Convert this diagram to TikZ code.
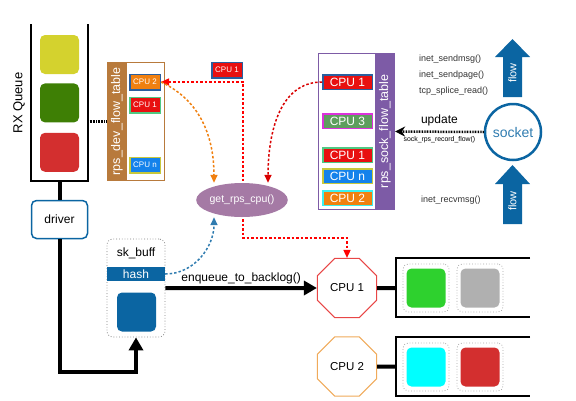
\documentclass[tikz,border=0pt]{standalone}
\usepackage{fontspec}
\setmainfont{Liberation Sans}
\usetikzlibrary{shapes.geometric, arrows, arrows.meta}
\usetikzlibrary{positioning}
\definecolor{qyellow}{RGB}{212,210,46}
\definecolor{qgreen}{RGB}{62,127,5}
\definecolor{qred}{RGB}{211,47,47}
\definecolor{skblue}{RGB}{11,101,162}
\definecolor{devbrown}{RGB}{184,122,60}
\definecolor{sockpurple}{RGB}{125,91,166}
\definecolor{rpspink}{RGB}{165,122,165}
\definecolor{cpured}{RGB}{232,16,16}
\definecolor{cpuorange}{RGB}{240,128,16}
\definecolor{cpublue}{RGB}{20,130,235}
\definecolor{cpugreen}{RGB}{94,158,94}
\definecolor{edgeblue}{RGB}{42,95,158}
\definecolor{edgegreen}{RGB}{80,200,130}
\definecolor{edgeyellow}{RGB}{200,200,60}
\definecolor{edgemagenta}{RGB}{220,50,220}
\definecolor{edgecyan}{RGB}{60,240,240}
\definecolor{corered}{RGB}{232,70,70}
\definecolor{coreorange}{RGB}{240,170,90}
\definecolor{pktgreen}{RGB}{46,209,46}
\definecolor{pktgray}{RGB}{176,176,176}
\definecolor{pktcyan}{RGB}{0,255,255}
\tikzstyle{packet} = [rectangle, rounded corners=5pt, minimum width=39pt, minimum height=39pt, inner sep=0pt]
\tikzstyle{slot} = [rectangle, rounded corners=5pt, minimum width=46pt, minimum height=48pt, draw=gray!70, dotted, line width=0.8pt]
\tikzstyle{flowtable} = [rectangle, line width=1.2pt, fill=white]
\tikzstyle{tabletitle} = [rectangle, rotate=90, minimum height=20pt, inner sep=0pt, text=white, font=\fontsize{12.5}{14}\selectfont]
\tikzstyle{entry} = [rectangle, line width=1.5pt, minimum width=30.5pt, minimum height=15.5pt, inner sep=0pt, text=white, font=\fontsize{8}{9}\selectfont]
\tikzstyle{bigentry} = [entry, minimum width=49.5pt, minimum height=14.5pt, font=\fontsize{12}{13}\selectfont]
\tikzstyle{core} = [regular polygon, regular polygon sides=8, minimum size=64pt, inner sep=0pt, line width=1pt, fill=white, font=\fontsize{11.5}{13}\selectfont]
\tikzstyle{flowshape} = [fill=skblue, draw=none]
\tikzstyle{flowtext} = [rotate=90, text=white, inner sep=0pt, font=\fontsize{11}{12}\selectfont]
\tikzstyle{fname} = [anchor=west, inner sep=0pt, text=black!80, font=\fontsize{9}{10}\selectfont]
\tikzstyle{link} = [line width=4pt]
\tikzstyle{pushline} = [line width=4pt, -{Triangle[length=13pt,width=14pt]}]
\tikzstyle{dotline} = [line width=1.5pt, dash pattern=on 2.5pt off 2pt]
\tikzstyle{dottip} = [-{Triangle[length=8pt,width=7pt]}]

\begin{document}
\begin{tikzpicture}[x=1pt, y=-1pt, font=\fontsize{12}{14}\selectfont]
 \useasboundingbox (0,0) rectangle (576,400);

 \draw [line width=1.5pt] (31,24) -- (31,181) -- (88,181) -- (88,24);
 \node (rxlabel) [rotate=90, font=\fontsize{13}{15}\selectfont] at (19,103) {RX Queue};
 \node (pkty) [packet, fill=qyellow] at (59.5,54.5) {};
 \node (pktg) [packet, fill=qgreen, below=9pt of pkty] {};
 \node (pktr) [packet, fill=qred, below=10pt of pktg] {};
 \coordinate (rxbottom) at (59.5,181);
 \coordinate (rxside) at (88,121.5);
 \node (driver) [rectangle, rounded corners=5pt, draw=skblue, line width=1.5pt, minimum width=56pt, minimum height=38pt] at (59.5,219.5) {driver};

 \node (devtab) [flowtable, draw=devbrown, minimum width=57pt, minimum height=118pt] at (136,121.5) {};
 \node (devtitle) [tabletitle, fill=devbrown, minimum width=119pt] at (117,121.5) {rps\_dev\_flow\_table};
 \node (devcpu2) [entry, fill=cpuorange, draw=edgeblue] at (145,82) {CPU 2};
 \node (devcpu1) [entry, fill=cpured, draw=edgegreen] at (145,105) {CPU 1};
 \node (devcpun) [entry, fill=cpublue, draw=edgeyellow] at (145,165) {CPU n};

 \node (socktab) [flowtable, draw=sockpurple, minimum width=76pt, minimum height=156pt] at (356.5,131.5) {};
 \node (socktitle) [tabletitle, fill=sockpurple, minimum width=157pt] at (385,131.5) {rps\_sock\_flow\_table};
 \node (sockcpu1) [bigentry, fill=cpured, draw=edgeblue] at (347.5,82) {CPU 1};
 \node (sockcpu3) [bigentry, fill=cpugreen, draw=edgemagenta] at (347.5,121) {CPU 3};
 \node (sockcpu1b) [bigentry, fill=cpured, draw=edgegreen] at (347.5,155) {CPU 1};
 \node (sockcpun) [bigentry, fill=cpublue, draw=edgeyellow] at (347.5,176) {CPU n};
 \node (sockcpu2) [bigentry, fill=cpuorange, draw=edgecyan] at (347.5,198) {CPU 2};

 \node (skbuff) [rectangle, rounded corners=6pt, draw=gray, dotted, line width=0.8pt, minimum width=58pt, minimum height=98pt] at (136,288) {};
 \node (sklabel) at (136,253) {sk\_buff};
 \node (hash) [rectangle, fill=skblue, text=white, minimum width=58pt, minimum height=14pt, inner sep=0pt] at (136,274) {hash};
 \node (skdata) [packet, fill=skblue] at (136.5,312) {};

 \node (core1) [core, draw=corered] at (347,288) {CPU 1};
 \node (core2) [core, draw=coreorange] at (347,366.5) {CPU 2};
 \draw [line width=1.5pt] (530,258) -- (396,258) -- (396,317) -- (530,317);
 \draw [line width=1.5pt] (530,337) -- (396,337) -- (396,396) -- (530,396);
 \coordinate (q1) at (396,288);
 \coordinate (q2) at (396,366.5);
 \node (slot1a) [slot] at (426,288) {};
 \node (slot1b) [slot] at (480,288) {};
 \node (slot2a) [slot] at (426,367) {};
 \node (slot2b) [slot] at (480,367) {};
 \node (pkt1a) [packet, fill=pktgreen] at (426,288) {};
 \node (pkt1b) [packet, fill=pktgray] at (480,288) {};
 \node (pkt2a) [packet, fill=pktcyan] at (426,367) {};
 \node (pkt2b) [packet, fill=qred] at (480,367) {};

 \node (socket) [circle, draw=skblue, line width=2.5pt, minimum size=56pt, text=skblue!85, font=\fontsize{14}{16}\selectfont] at (513,132) {socket};
 \draw [flowshape] (503,97) -- ++(0,-40) -- ++(-8,0) -- ++(17.5,-18) -- ++(17.5,18) -- ++(-8,0) -- ++(0,40) -- cycle;
 \draw [flowshape] (503,224) -- ++(0,-40) -- ++(-8,0) -- ++(17.5,-19) -- ++(17.5,19) -- ++(-8,0) -- ++(0,40) -- cycle;
 \node (flowout) [flowtext] at (512.5,73) {flow};
 \node (flowin) [flowtext] at (512.5,201) {flow};
 \node (sendmsg) [fname] at (419,59) {inet\_sendmsg()};
 \node (sendpage) [fname] at (419,75) {inet\_sendpage()};
 \node (splice) [fname] at (419,91) {tcp\_splice\_read()};
 \node (recvmsg) [fname] at (421,200) {inet\_recvmsg()};

 \coordinate (redbend) at (243,238);
 \draw [dotline, red, {Triangle[length=8pt,width=7pt]}-{Triangle[length=8pt,width=7pt]}] (devcpu2.east) -| (redbend) -| (core1.north);
 \node (cpu1tag) [entry, fill=cpured, draw=edgeblue] at (227,70) {CPU 1};
 \node (getcpu) [ellipse, fill=rpspink, text=white, minimum width=77pt, minimum height=34pt, inner sep=0pt, font=\fontsize{10.5}{12}\selectfont] at (242,200) {get\_rps\_cpu()};

 \draw [dotline, dottip, cpuorange] (devcpu2.east) to[out=-25, in=90] ([xshift=-28pt]getcpu.north);
 \draw [dotline, dottip, red!85!black] (sockcpu1.west) to[out=180, in=90] ([xshift=26pt]getcpu.north);
 \draw [dotline, dottip, skblue!85] (hash.east) to[out=0, in=-90] ([xshift=-28pt]getcpu.south);

 \draw [link] (rxbottom) -- (driver.north);
 \draw [line width=2.5pt, dash pattern=on 0.8pt off 0.8pt] (rxside) -- (devtab.west);
 \draw [pushline] (driver.south) -- ++(0,133) -| (skbuff.south);
 \draw [pushline] (skbuff.east) -- (core1.west) node (enqueue) [midway, above=-1pt] {enqueue\_to\_backlog()};
 \draw [link] (core1.east) -- (q1);
 \draw [link] (core2.east) -- (q2);
 \draw [line width=2.5pt, dash pattern=on 0.8pt off 0.8pt, -{Stealth[length=10pt,width=10pt]}] (socket.west) -- (socktab.east)
  node (update) [midway, above=1pt] {update}
  node (record) [midway, below=0pt, font=\fontsize{6.9}{8}\selectfont] {sock\_rps\_record\_flow()};
\end{tikzpicture}
\end{document}
